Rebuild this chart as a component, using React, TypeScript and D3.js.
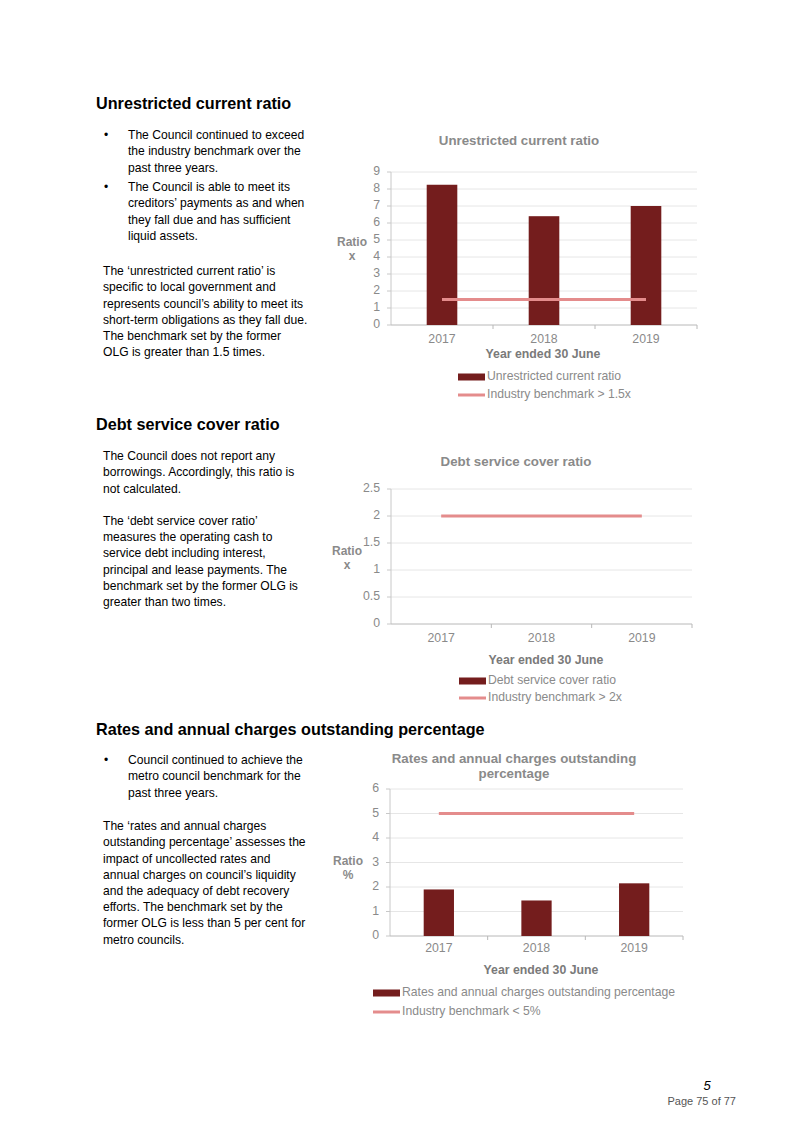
import React from "react";
import * as d3 from "d3";

const years = ["2017", "2018", "2019"];

const unrestrictedValues = [8.25, 6.4, 7.0];
const unrestrictedBenchmark = [1.5, 1.5, 1.5];
const unrestrictedTicks = [0, 1, 2, 3, 4, 5, 6, 7, 8, 9];

const debtValues: number[] = [];
const debtBenchmark = [2, 2, 2];
const debtTicks = [0, 0.5, 1, 1.5, 2, 2.5];

const ratesValues = [1.9, 1.45, 2.15];
const ratesBenchmark = [5, 5, 5];
const ratesTicks = [0, 1, 2, 3, 4, 5, 6];

const BAR = "#741d1d";
const BENCH = "#e48c8c";
const GREY = "#8a8a8a";
const FONT = "Liberation Sans, Arial, sans-serif";

type ChartCfg = {
  title: string[];
  titleX: number;
  titleY: number;
  x0: number;
  x1: number;
  yTop: number;
  yBottom: number;
  ticks: number[];
  values: number[];
  bench: number[];
  unit: string;
  ratioX: number;
  ratioY: number;
  xLabelY: number;
  xTitleX: number;
  xTitleY: number;
  legX: number;
  legY: number;
  legGap: number;
  barLabel: string;
  benchLabel: string;
  barFrac: number;
};

function Chart({ c }: { c: ChartCfg }) {
  const x = d3.scaleBand<string>().domain(years).range([c.x0, c.x1]);
  const maxT = c.ticks[c.ticks.length - 1];
  const y = d3.scaleLinear().domain([0, maxT]).range([c.yBottom, c.yTop]);
  const bw = x.bandwidth() * c.barFrac;
  const line = d3
    .line<number>()
    .x((_, i) => (x(years[i]) as number) + x.bandwidth() / 2)
    .y((d) => y(d));
  return (
    <g fontFamily={FONT}>
      {c.title.map((t, i) => (
        <text
          key={i}
          x={c.titleX}
          y={c.titleY + i * 15}
          textAnchor="middle"
          dominantBaseline="middle"
          fontSize={13.3}
          fontWeight="bold"
          fill={GREY}
        >
          {t}
        </text>
      ))}
      {c.ticks.map((t) => (
        <g key={t}>
          {t > 0 && (
            <line x1={c.x0} x2={c.x1} y1={y(t)} y2={y(t)} stroke="#e6e6e6" strokeWidth={1} />
          )}
          <line x1={c.x0 - 4} x2={c.x0} y1={y(t)} y2={y(t)} stroke="#c8c8c8" />
          <text
            x={c.x0 - 11}
            y={y(t)}
            textAnchor="end"
            dominantBaseline="middle"
            fontSize={12.3}
            fill={GREY}
          >
            {t}
          </text>
        </g>
      ))}
      <line x1={c.x0} x2={c.x0} y1={c.yTop} y2={c.yBottom} stroke="#c8c8c8" />
      <line x1={c.x0} x2={c.x1} y1={c.yBottom} y2={c.yBottom} stroke="#b8b8b8" />
      {years.map((yr) => (
        <line
          key={yr}
          x1={(x(yr) as number) + x.bandwidth()}
          x2={(x(yr) as number) + x.bandwidth()}
          y1={c.yBottom}
          y2={c.yBottom + 4}
          stroke="#b8b8b8"
        />
      ))}
      {c.values.map((v, i) => (
        <rect
          key={i}
          x={(x(years[i]) as number) + (x.bandwidth() - bw) / 2}
          y={y(v)}
          width={bw}
          height={c.yBottom - y(v)}
          fill={BAR}
        />
      ))}
      <path d={line(c.bench) as string} fill="none" stroke={BENCH} strokeWidth={3} />
      {years.map((yr) => (
        <text
          key={yr}
          x={(x(yr) as number) + x.bandwidth() / 2}
          y={c.xLabelY}
          textAnchor="middle"
          dominantBaseline="middle"
          fontSize={12.3}
          fill={GREY}
        >
          {yr}
        </text>
      ))}
      <text x={c.ratioX} y={c.ratioY} textAnchor="middle" dominantBaseline="middle" fontSize={12} fontWeight="bold" fill={GREY}>
        Ratio
      </text>
      <text x={c.ratioX} y={c.ratioY + 14} textAnchor="middle" dominantBaseline="middle" fontSize={12} fontWeight="bold" fill={GREY}>
        {c.unit}
      </text>
      <text x={c.xTitleX} y={c.xTitleY} textAnchor="middle" dominantBaseline="middle" fontSize={12.3} fontWeight="bold" fill={"#7a7a7a"}>
        Year ended 30 June
      </text>
      <rect x={c.legX} y={c.legY - 3.5} width={27} height={7} fill={BAR} />
      <text x={c.legX + 29} y={c.legY} dominantBaseline="middle" fontSize={12.2} fill={GREY}>
        {c.barLabel}
      </text>
      <line x1={c.legX} x2={c.legX + 27} y1={c.legY + c.legGap} y2={c.legY + c.legGap} stroke={BENCH} strokeWidth={3} />
      <text x={c.legX + 29} y={c.legY + c.legGap} dominantBaseline="middle" fontSize={12.2} fill={GREY}>
        {c.benchLabel}
      </text>
    </g>
  );
}

const charts: ChartCfg[] = [
  {
    title: ["Unrestricted current ratio"],
    titleX: 519,
    titleY: 141,
    x0: 391,
    x1: 697,
    yTop: 172,
    yBottom: 325,
    ticks: unrestrictedTicks,
    values: unrestrictedValues,
    bench: unrestrictedBenchmark,
    unit: "x",
    ratioX: 352,
    ratioY: 243,
    xLabelY: 340,
    xTitleX: 543,
    xTitleY: 355,
    legX: 458,
    legY: 377,
    legGap: 18,
    barLabel: "Unrestricted current ratio",
    benchLabel: "Industry benchmark > 1.5x",
    barFrac: 0.3,
  },
  {
    title: ["Debt service cover ratio"],
    titleX: 516,
    titleY: 462,
    x0: 391,
    x1: 692,
    yTop: 489,
    yBottom: 624,
    ticks: debtTicks,
    values: debtValues,
    bench: debtBenchmark,
    unit: "x",
    ratioX: 347,
    ratioY: 552,
    xLabelY: 639,
    xTitleX: 546,
    xTitleY: 661,
    legX: 459,
    legY: 681,
    legGap: 17,
    barLabel: "Debt service cover ratio",
    benchLabel: "Industry benchmark > 2x",
    barFrac: 0.3,
  },
  {
    title: ["Rates and annual charges outstanding", "percentage"],
    titleX: 514,
    titleY: 759,
    x0: 390,
    x1: 683,
    yTop: 789,
    yBottom: 936,
    ticks: ratesTicks,
    values: ratesValues,
    bench: ratesBenchmark,
    unit: "%",
    ratioX: 348,
    ratioY: 862,
    xLabelY: 949,
    xTitleX: 541,
    xTitleY: 971,
    legX: 373,
    legY: 993,
    legGap: 19,
    barLabel: "Rates and annual charges outstanding percentage",
    benchLabel: "Industry benchmark < 5%",
    barFrac: 0.31,
  },
];

type Block = { heading: string; headingY: number; bullets: { y: number; lines: string[] }[]; para: { y: number; lines: string[] } };

const blocks: Block[] = [
  {
    heading: "Unrestricted current ratio",
    headingY: 105,
    bullets: [
      { y: 136, lines: ["The Council continued to exceed", "the industry benchmark over the", "past three years."] },
      { y: 188, lines: ["The Council is able to meet its", "creditors’ payments as and when", "they fall due and has sufficient", "liquid assets."] },
    ],
    para: {
      y: 272,
      lines: [
        "The ‘unrestricted current ratio’ is",
        "specific to local government and",
        "represents council’s ability to meet its",
        "short-term obligations as they fall due.",
        "The benchmark set by the former",
        "OLG is greater than 1.5 times.",
      ],
    },
  },
  {
    heading: "Debt service cover ratio",
    headingY: 426,
    bullets: [],
    para: {
      y: 457,
      lines: [
        "The Council does not report any",
        "borrowings. Accordingly, this ratio is",
        "not calculated.",
        "",
        "The ‘debt service cover ratio’",
        "measures the operating cash to",
        "service debt including interest,",
        "principal and lease payments. The",
        "benchmark set by the former OLG is",
        "greater than two times.",
      ],
    },
  },
  {
    heading: "Rates and annual charges outstanding percentage",
    headingY: 731,
    bullets: [{ y: 761, lines: ["Council continued to achieve the", "metro council benchmark for the", "past three years."] }],
    para: {
      y: 827,
      lines: [
        "The ‘rates and annual charges",
        "outstanding percentage’ assesses the",
        "impact of uncollected rates and",
        "annual charges on council’s liquidity",
        "and the adequacy of debt recovery",
        "efforts. The benchmark set by the",
        "former OLG is less than 5 per cent for",
        "metro councils.",
      ],
    },
  },
];

const LH = 16.2;

export default function App() {
  return (
    <svg
      width={806}
      height={1141}
      style={{ position: "absolute", left: 0, top: 0, background: "#fff" }}
      fontFamily={FONT}
    >
      <rect width={806} height={1141} fill="#fff" />
      {blocks.map((b, bi) => (
        <g key={bi}>
          <text x={96} y={b.headingY} dominantBaseline="middle" fontSize={16.2} fontWeight="bold" fill="#000">
            {b.heading}
          </text>
          {b.bullets.map((bl, i) => (
            <g key={i}>
              <text x={104} y={bl.y} dominantBaseline="middle" fontSize={12} fill="#000">•</text>
              {bl.lines.map((l, j) => (
                <text key={j} x={128} y={bl.y + j * LH} dominantBaseline="middle" fontSize={12.1} fill="#000">
                  {l}
                </text>
              ))}
            </g>
          ))}
          {b.para.lines.map((l, j) => (
            <text key={j} x={103} y={b.para.y + j * LH} dominantBaseline="middle" fontSize={12.1} fill="#000">
              {l}
            </text>
          ))}
        </g>
      ))}
      {charts.map((c, i) => (
        <Chart key={i} c={c} />
      ))}
      <text x={707} y={1087} textAnchor="middle" dominantBaseline="middle" fontSize={13} fontStyle="italic" fill="#000">
        5
      </text>
      <text x={736} y={1102} textAnchor="end" dominantBaseline="middle" fontSize={11} fill="#555">
        Page 75 of 77
      </text>
    </svg>
  );
}
